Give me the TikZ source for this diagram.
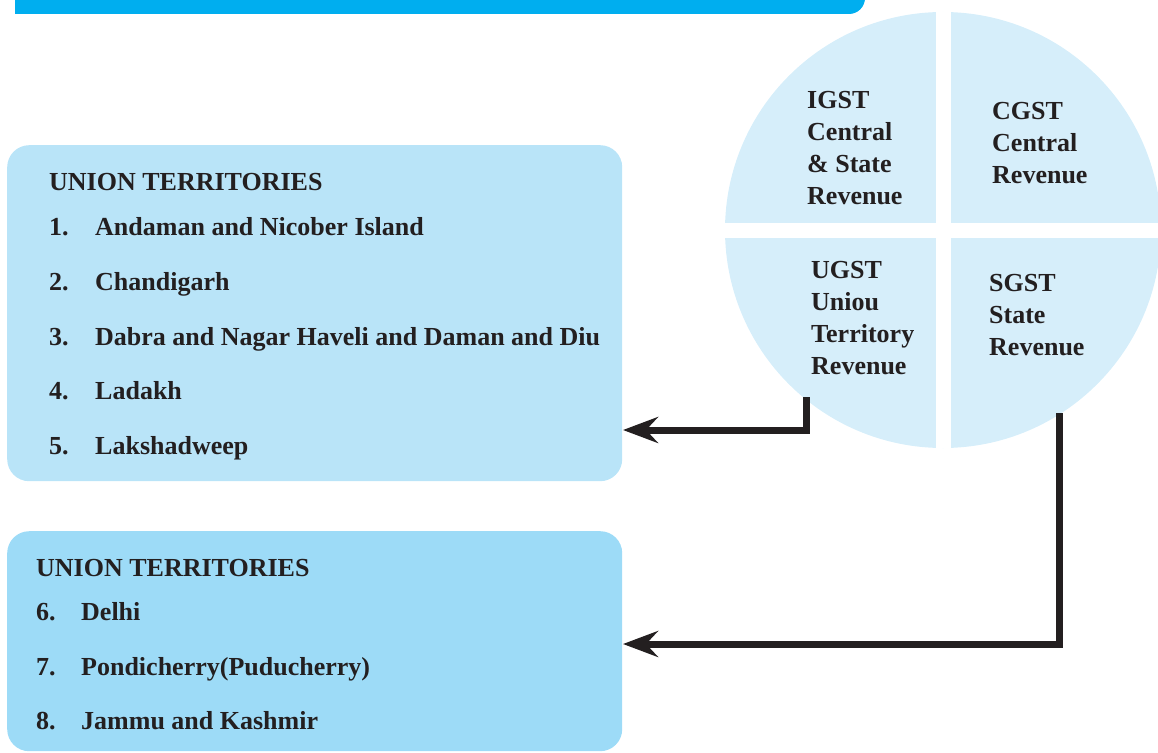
\documentclass[tikz,border=0pt]{standalone}
\usepackage{fontspec}
\setmainfont{Liberation Serif}
\usetikzlibrary{arrows.meta}
\definecolor{barblue}{HTML}{00AEEF}
\definecolor{pieblue}{HTML}{D6EEFA}
\definecolor{utlight}{HTML}{B9E4F8}
\definecolor{utdark}{HTML}{9DDBF7}
\definecolor{inkdark}{HTML}{231F20}
\tikzset{
  lbl/.style={anchor=base west, inner sep=0pt, text=inkdark, font=\bfseries\fontsize{26}{32}\selectfont},
  slice/.style={anchor=north west, inner sep=0pt, align=left, text=inkdark, font=\bfseries\fontsize{26}{32}\selectfont},
  utbox/.style={rounded corners=22pt, inner sep=0pt, anchor=north west, minimum width=615pt},
  flow/.style={line width=7pt, draw=inkdark, -{Stealth[length=35pt, width=26pt, inset=12pt]}}
}
\begin{document}
\begin{tikzpicture}[x=1pt, y=-1pt]
                    \useasboundingbox (0,0) rectangle (1158,752);
                    % heading bar
                    \fill [barblue] (15,14) -- (15,-20) -- (865,-20) [rounded corners=16pt] -- (865,14) [sharp corners] -- cycle;
                    % tax circle
                    \node [circle, fill=pieblue, minimum size=436pt, inner sep=0pt] (pie) at (943,230){};
                    \draw [white, line width=15pt] (pie.north) -- (pie.south);
                    \draw [white, line width=15pt] (pie.west) -- (pie.east);
                    \node [slice] (igst) at (807,91){IGST\\Central\\\& State\\Revenue};
                    \node [slice] (cgst) at (992,102){CGST\\Central\\Revenue};
                    \node [slice] (ugst) at (811,261){UGST\\Uniou\\Territory\\Revenue};
                    \node [slice] (sgst) at (989,274){SGST\\State\\Revenue};
                    % union territories
                    \node [utbox, fill=utlight, minimum height=336pt] (ut1) at (7,145){};
                    \node [lbl] (ut1head) at (49,190){UNION TERRITORIES};
                    \node [lbl] (n1) at (49,235){1.};
                    \node [lbl] (t1) at (95,235){Andaman and Nicober Island};
                    \node [lbl] (n2) at (49,290){2.};
                    \node [lbl] (t2) at (95,290){Chandigarh};
                    \node [lbl] (n3) at (49,345){3.};
                    \node [lbl] (t3) at (95,345){Dabra and Nagar Haveli and Daman and Diu};
                    \node [lbl] (n4) at (49,399){4.};
                    \node [lbl] (t4) at (95,399){Ladakh};
                    \node [lbl] (n5) at (49,454){5.};
                    \node [lbl] (t5) at (95,454){Lakshadweep};
                    \node [utbox, fill=utdark, minimum height=220pt] (ut2) at (7,531){};
                    \node [lbl] (ut2head) at (36,576){UNION TERRITORIES};
                    \node [lbl] (n6) at (36,620){6.};
                    \node [lbl] (t6) at (81,620){Delhi};
                    \node [lbl] (n7) at (36,675){7.};
                    \node [lbl] (t7) at (81,675){Pondicherry(Puducherry)};
                    \node [lbl] (n8) at (36,729){8.};
                    \node [lbl] (t8) at (81,729){Jammu and Kashmir};
                    % arrows
                    \coordinate (ugstfoot) at (806,397);
                    \coordinate (sgstfoot) at (1059,413);
                    \coordinate (ut1in) at (623,430);
                    \coordinate (ut2in) at (623,644);
                    \draw [flow] (ugstfoot) |- (ut1in);
                    \draw [flow] (sgstfoot) |- (ut2in);
                \end{tikzpicture}
\end{document}
